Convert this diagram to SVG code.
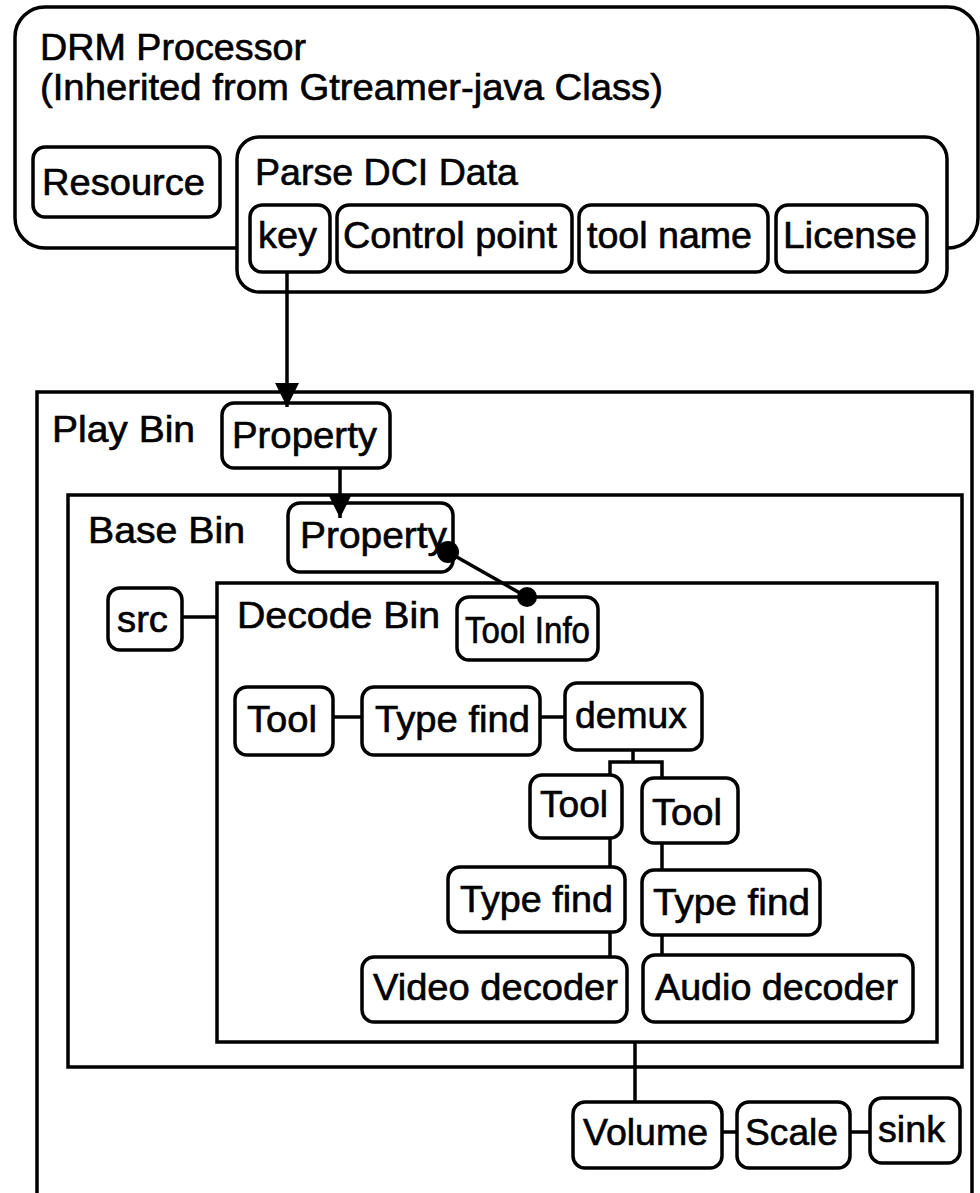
<svg xmlns="http://www.w3.org/2000/svg" width="980" height="1193" viewBox="0 0 980 1193">
<defs>
<style>
.box{fill:#fff;stroke:#000;stroke-width:3.5}
.frame{fill:none;stroke:#000;stroke-width:3.5}
.t{font-family:"Liberation Sans",Arial,sans-serif;font-size:36px;fill:#000;stroke:#000;stroke-width:0.6}
.c{fill:none;stroke:#000;stroke-width:3.5}
</style>
<marker id="arr" markerWidth="7" markerHeight="7" refX="7" refY="3.5" orient="auto" markerUnits="strokeWidth">
<path d="M0,0 L7,3.5 L0,7 Z" fill="#000"/>
</marker>
</defs>
<rect width="980" height="1193" fill="#fff"/>

<g id="drm-processor">
<rect class="box" x="15" y="7" width="963" height="241" rx="30"/>
<text class="t" x="40" y="60" textLength="266" lengthAdjust="spacingAndGlyphs">DRM Processor</text>
<text class="t" x="40" y="100" textLength="623" lengthAdjust="spacingAndGlyphs">(Inherited from Gtreamer-java Class)</text>
</g>
<g id="resource">
<rect class="box" x="33" y="147" width="187" height="70" rx="12"/>
<text class="t" x="42" y="195" textLength="163" lengthAdjust="spacingAndGlyphs">Resource</text>
</g>
<g id="parse-dci">
<rect class="box" x="237" y="137" width="710" height="155" rx="22"/>
<text class="t" x="255" y="185" textLength="263" lengthAdjust="spacingAndGlyphs">Parse DCI Data</text>
</g>
<g id="key">
<rect class="box" x="250" y="205" width="80" height="67" rx="12"/>
<text class="t" x="258" y="248" textLength="59" lengthAdjust="spacingAndGlyphs">key</text>
</g>
<g id="control-point">
<rect class="box" x="337" y="205" width="235" height="67" rx="12"/>
<text class="t" x="343" y="248" textLength="214" lengthAdjust="spacingAndGlyphs">Control point</text>
</g>
<g id="tool-name">
<rect class="box" x="579" y="205" width="189" height="67" rx="12"/>
<text class="t" x="587" y="248" textLength="165" lengthAdjust="spacingAndGlyphs">tool name</text>
</g>
<g id="license">
<rect class="box" x="776" y="205" width="151" height="67" rx="12"/>
<text class="t" x="783" y="248" textLength="134" lengthAdjust="spacingAndGlyphs">License</text>
</g>

<g id="play-bin">
<rect class="frame" x="37" y="392" width="935" height="803"/>
<text class="t" x="52" y="442" textLength="143" lengthAdjust="spacingAndGlyphs">Play Bin</text>
</g>
<g id="play-property">
<rect class="box" x="222" y="403" width="168" height="65" rx="12"/>
<text class="t" x="232" y="448" textLength="145" lengthAdjust="spacingAndGlyphs">Property</text>
</g>
<g id="base-bin">
<rect class="frame" x="68" y="495" width="894" height="572"/>
<text class="t" x="88" y="543" textLength="157" lengthAdjust="spacingAndGlyphs">Base Bin</text>
</g>
<g id="base-property">
<rect class="box" x="288" y="503" width="165" height="69" rx="12"/>
<text class="t" x="300" y="548" textLength="147" lengthAdjust="spacingAndGlyphs">Property</text>
</g>
<g id="src">
<rect class="box" x="108" y="588" width="74" height="62" rx="12"/>
<text class="t" x="117" y="632" textLength="51" lengthAdjust="spacingAndGlyphs">src</text>
</g>
<g id="decode-bin">
<rect class="frame" x="217" y="583" width="720" height="459"/>
<text class="t" x="237" y="628" textLength="203" lengthAdjust="spacingAndGlyphs">Decode Bin</text>
</g>
<g id="tool-info">
<rect class="box" x="457" y="597" width="141" height="63" rx="12"/>
<text class="t" x="465" y="643" textLength="125" lengthAdjust="spacingAndGlyphs">Tool Info</text>
</g>
<g id="tool">
<rect class="box" x="235" y="687" width="98" height="68" rx="12"/>
<text class="t" x="247" y="732" textLength="70" lengthAdjust="spacingAndGlyphs">Tool</text>
</g>
<g id="type-find">
<rect class="box" x="362" y="687" width="178" height="68" rx="12"/>
<text class="t" x="375" y="732" textLength="155" lengthAdjust="spacingAndGlyphs">Type find</text>
</g>
<g id="demux">
<rect class="box" x="565" y="683" width="137" height="67" rx="12"/>
<text class="t" x="575" y="728" textLength="112" lengthAdjust="spacingAndGlyphs">demux</text>
</g>
<g id="tool-left">
<rect class="box" x="530" y="775" width="92" height="63" rx="12"/>
<text class="t" x="540" y="817" textLength="68" lengthAdjust="spacingAndGlyphs">Tool</text>
</g>
<g id="tool-right">
<rect class="box" x="642" y="778" width="96" height="65" rx="12"/>
<text class="t" x="652" y="825" textLength="70" lengthAdjust="spacingAndGlyphs">Tool</text>
</g>
<g id="type-find-left">
<rect class="box" x="448" y="867" width="177" height="65" rx="12"/>
<text class="t" x="460" y="912" textLength="153" lengthAdjust="spacingAndGlyphs">Type find</text>
</g>
<g id="type-find-right">
<rect class="box" x="642" y="870" width="178" height="65" rx="12"/>
<text class="t" x="653" y="915" textLength="157" lengthAdjust="spacingAndGlyphs">Type find</text>
</g>
<g id="video-decoder">
<rect class="box" x="362" y="957" width="265" height="65" rx="12"/>
<text class="t" x="373" y="1000" textLength="245" lengthAdjust="spacingAndGlyphs">Video decoder</text>
</g>
<g id="audio-decoder">
<rect class="box" x="643" y="955" width="270" height="67" rx="12"/>
<text class="t" x="655" y="1000" textLength="243" lengthAdjust="spacingAndGlyphs">Audio decoder</text>
</g>
<g id="volume">
<rect class="box" x="573" y="1102" width="149" height="66" rx="12"/>
<text class="t" x="583" y="1145" textLength="125" lengthAdjust="spacingAndGlyphs">Volume</text>
</g>
<g id="scale">
<rect class="box" x="737" y="1102" width="113" height="66" rx="12"/>
<text class="t" x="745" y="1145" textLength="93" lengthAdjust="spacingAndGlyphs">Scale</text>
</g>
<g id="sink">
<rect class="box" x="870" y="1098" width="90" height="65" rx="12"/>
<text class="t" x="878" y="1142" textLength="67" lengthAdjust="spacingAndGlyphs">sink</text>
</g>

<g id="connectors">
<path class="c" d="M287,272 V407" marker-end="url(#arr)"/>
<path class="c" d="M340,468 V518" marker-end="url(#arr)"/>
<path class="c" d="M448,552 L527,597"/>
<circle cx="448" cy="552" r="11" fill="#000"/>
<circle cx="527" cy="597" r="10" fill="#000"/>
<path class="c" d="M182,617 H217"/>
<path class="c" d="M333,717 H362"/>
<path class="c" d="M540,717 H565"/>
<path class="c" d="M633,750 V762 M610,775 V762 H662 V778"/>
<path class="c" d="M610,838 V867"/>
<path class="c" d="M662,843 V870"/>
<path class="c" d="M610,932 V957"/>
<path class="c" d="M662,935 V955"/>
<path class="c" d="M635,1042 V1102"/>
<path class="c" d="M722,1132 H737"/>
<path class="c" d="M850,1132 H870"/>
</g>
</svg>
